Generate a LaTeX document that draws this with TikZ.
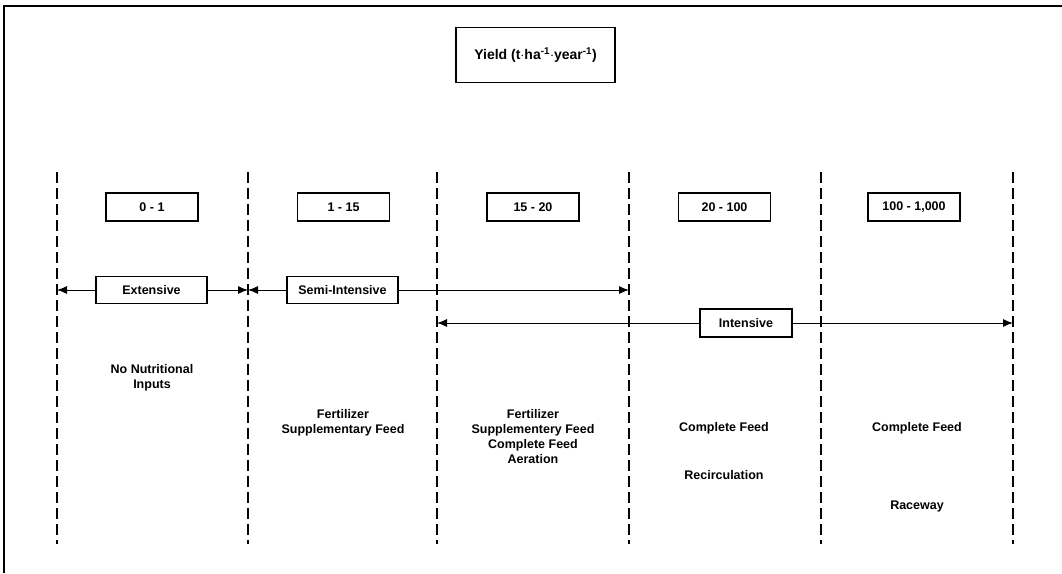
\documentclass[tikz,border=0pt]{standalone}
\usepackage{fontspec}
\setmainfont{Liberation Sans}
\usetikzlibrary{arrows.meta}
\begin{document}
\begin{tikzpicture}[x=1pt,y=-1pt,
  every node/.style={font=\fontsize{12.5}{15}\selectfont\bfseries},
  framebox/.style={draw,line width=1.6pt,minimum width=92pt,minimum height=28pt,inner sep=0pt,fill=white},
  rangebox/.style={framebox},
  modebox/.style={framebox,minimum width=111pt,minimum height=27pt},
  divider/.style={line width=1.3pt,dash pattern=on 11pt off 5pt},
  arr/.style={line width=1pt,-{Latex[length=10pt,width=8pt]}},
  lbl/.style={align=center,inner sep=0pt}]
\useasboundingbox (0,0) rectangle (1062,573);
% outer frame (left and top)
\draw[line width=2pt] (4,573) -- (4,6) -- (1062,6);
% title
\node[framebox,minimum width=159pt,minimum height=55pt,font=\fontsize{14}{16}\selectfont\bfseries] (title) at (535.5,55) {Yield (t$\cdot$ha\textsuperscript{-1}$\cdot$year\textsuperscript{-1})};
% divider coordinates
\foreach \i/\x in {0/57,1/248,2/437,3/629,4/821,5/1013}{
  \coordinate (T\i) at (\x,172);
  \coordinate (B\i) at (\x,544);
}
\foreach \i in {0,...,5}{ \draw[divider] (T\i) -- (B\i); }
% range boxes
\node[rangebox] (r1) at (152,207) {0 - 1};
\node[rangebox] (r2) at (343.5,207) {1 - 15};
\node[rangebox] (r3) at (533,207) {15 - 20};
\node[rangebox] (r4) at (724.5,207) {20 - 100};
\node[rangebox] (r5) at (914,207) {100 - 1,000};
% mode boxes
\node[modebox] (ext) at (151.5,290) {Extensive};
\node[modebox] (semi) at (342.5,290) {Semi-Intensive};
\node[rangebox] (int) at (746,323) {Intensive};
\coordinate (e0) at (57,290);
\coordinate (e1) at (248,290);
\coordinate (s0) at (248,290);
\coordinate (s1) at (629,290);
\coordinate (i0) at (437,323);
\coordinate (i1) at (1013,323);
\draw[arr] (ext.west) -- (e0);
\draw[arr] (ext.east) -- (e1);
\draw[arr] (semi.west) -- (s0);
\draw[arr] (semi.east) -- (s1);
\draw[arr] (int.west) -- (i0);
\draw[arr] (int.east) -- (i1);
% column texts
\node[lbl] (t1) at (152,378) {No Nutritional\\Inputs};
\node[lbl] (t2) at (343,423) {Fertilizer\\Supplementary Feed};
\node[lbl] (t3) at (533,436.5) {Fertilizer\\Supplementery Feed\\Complete Feed\\Aeration};
\node[lbl] (t4a) at (724,428) {Complete Feed};
\node[lbl] (t4b) at (724,475) {Recirculation};
\node[lbl] (t5a) at (917,428) {Complete Feed};
\node[lbl] (t5b) at (917,506) {Raceway};
\end{tikzpicture}
\end{document}
